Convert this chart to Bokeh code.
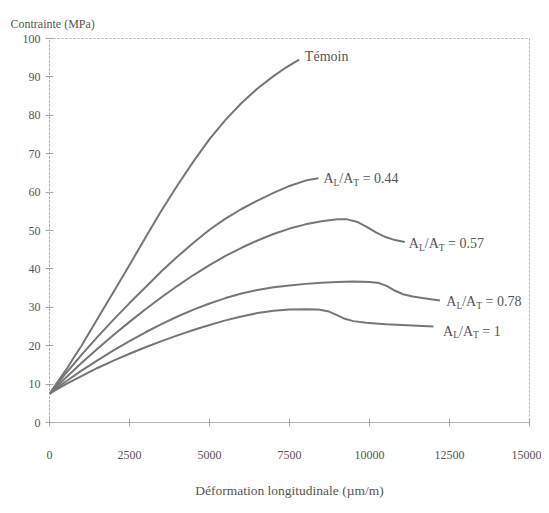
from bokeh.plotting import figure
from bokeh.models import Range1d, FixedTicker, Label
from bokeh.embed import file_html
from bokeh.resources import INLINE

# ---- data ----
temoin_x = [0, 250, 500, 750, 1000, 1500, 2000, 2500, 3000, 3500, 4000, 4500, 5000, 5500, 6000, 6500, 7000, 7400, 7800]
temoin_y = [7.5, 10.5, 13.5, 16.8, 20, 27, 34, 41, 48.2, 55.2, 61.8, 68, 73.8, 78.8, 83.2, 87, 90.2, 92.5, 94.5]

r044_x = [0, 500, 1000, 1500, 2000, 2500, 3000, 3500, 4000, 4500, 5000, 5500, 6000, 6500, 7000, 7500, 8000, 8400]
r044_y = [7.5, 12.7, 17.6, 22.3, 26.8, 31.1, 35.2, 39.4, 43.2, 46.8, 50.2, 53.1, 55.6, 57.8, 59.8, 61.6, 63, 63.6]

r057_x = [0, 500, 1000, 1500, 2000, 2500, 3000, 3500, 4000, 4500, 5000, 5500, 6000, 6500, 7000, 7500, 8000, 8500, 9000, 9300, 9600, 9900, 10200, 10500, 10800, 11100]
r057_y = [7.5, 11.6, 15.5, 19.2, 22.8, 26.2, 29.5, 32.6, 35.6, 38.4, 41, 43.4, 45.5, 47.4, 49.1, 50.5, 51.6, 52.4, 52.9, 52.9, 52.3, 51, 49.5, 48.3, 47.5, 47]

r078_x = [0, 500, 1000, 1500, 2000, 2500, 3000, 3500, 4000, 4500, 5000, 5500, 6000, 6500, 7000, 7500, 8000, 8500, 9000, 9500, 10000, 10300, 10550, 10800, 11050, 11350, 11750, 12200]
r078_y = [7.5, 10.6, 13.5, 16.2, 18.8, 21.2, 23.5, 25.6, 27.6, 29.4, 31, 32.4, 33.6, 34.5, 35.2, 35.7, 36.1, 36.4, 36.6, 36.7, 36.6, 36.3, 35.5, 34.3, 33.4, 32.8, 32.3, 31.8]

r1_x = [0, 500, 1000, 1500, 2000, 2500, 3000, 3500, 4000, 4500, 5000, 5500, 6000, 6500, 7000, 7500, 8000, 8400, 8700, 8950, 9200, 9500, 9900, 10500, 11000, 11500, 12000]
r1_y = [7.5, 9.9, 12.1, 14.2, 16.1, 17.9, 19.6, 21.2, 22.7, 24.1, 25.4, 26.6, 27.6, 28.5, 29.1, 29.4, 29.5, 29.4, 29, 28.1, 27.1, 26.4, 26, 25.6, 25.4, 25.2, 25]

x_ticks = [0, 2500, 5000, 7500, 10000, 12500, 15000]
y_ticks = [0, 10, 20, 30, 40, 50, 60, 70, 80, 90, 100]

curve_labels = [
    # (ratio text, x, y)
    ("0.44", 8560, 63.5),
    ("0.57", 11230, 46.5),
    ("0.78", 12400, 31.5),
    ("1", 12300, 23.8),
]
temoin_label = ("Témoin", 7980, 95.4)

FONT = "Liberation Serif"
TXT = "#555555"
LINE = "#767676"
FRAME = "#a8a8a8"

p = figure(width=541, height=500, output_backend="svg", toolbar_location=None,
           x_range=Range1d(0, 15000), y_range=Range1d(0, 100),
           min_border_left=49, min_border_right=12, min_border_top=38, min_border_bottom=67)
p.grid.visible = False
p.background_fill_color = "white"
p.border_fill_color = "white"
p.outline_line_color = FRAME
p.outline_line_dash = "2 2"
p.outline_line_width = 1

p.title.text = "Contrainte (MPa)"
p.title.align = "left"
p.title.offset = -39
p.title.standoff = 15
p.title.text_font = FONT
p.title.text_font_size = "12px"
p.title.text_font_style = "normal"
p.title.text_color = TXT

for ax in (p.xaxis[0], p.yaxis[0]):
    ax.axis_line_color = FRAME
    ax.axis_line_dash = "2 2"
    ax.major_tick_line_color = FRAME
    ax.major_tick_in = 4
    ax.major_tick_out = 4
    ax.minor_tick_line_color = None
    ax.major_label_text_font = FONT
    ax.major_label_text_font_size = "12px"
    ax.major_label_text_color = TXT

p.xaxis.ticker = FixedTicker(ticks=x_ticks)
p.yaxis.ticker = FixedTicker(ticks=y_ticks)
p.xaxis.major_label_standoff = 24
p.yaxis.major_label_standoff = 5
p.xaxis.axis_label = "Déformation longitudinale (µm/m)"
p.xaxis.axis_label_text_font = FONT
p.xaxis.axis_label_text_font_size = "13.5px"
p.xaxis.axis_label_text_font_style = "normal"
p.xaxis.axis_label_text_color = TXT
p.xaxis.axis_label_standoff = 21

for xs, ys in [(temoin_x, temoin_y), (r044_x, r044_y), (r057_x, r057_y), (r078_x, r078_y), (r1_x, r1_y)]:
    p.line(xs, ys, line_color=LINE, line_width=2, line_join="round")

# Témoin label
p.add_layout(Label(x=temoin_label[1], y=temoin_label[2], text=temoin_label[0], text_font=FONT,
                   text_font_size="14px", text_color=TXT, text_baseline="middle"))

BIG = 14
SMALL = 9.5
W_A = 0.722 * BIG
W_SUB = 0.611 * SMALL
W_SLASHA = (0.278 + 0.722) * BIG
W_SP = 0.25 * BIG
for val, lx, ly in curve_labels:
    pieces = [
        ("A", 0, BIG, 0),
        ("L", W_A, SMALL, -4),
        ("/A", W_A + W_SUB, BIG, 0),
        ("T", W_A + W_SUB + W_SLASHA, SMALL, -4),
        ("= " + val, W_A + 2 * W_SUB + W_SLASHA + W_SP, BIG, 0),
    ]
    for t, dx, fs, dy in pieces:
        p.add_layout(Label(x=lx, y=ly, x_offset=dx, y_offset=dy, text=t, text_font=FONT,
                           text_font_size=f"{fs}px", text_color=TXT, text_baseline="middle"))

open("out.html", "w").write(file_html(p, INLINE))
